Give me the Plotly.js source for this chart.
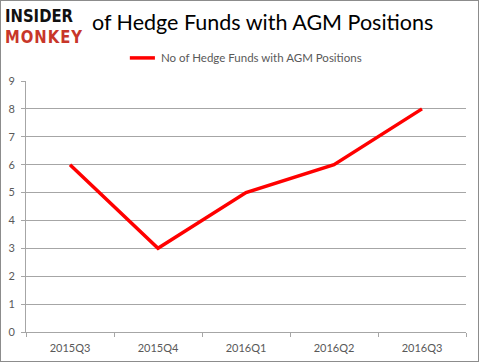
<!DOCTYPE html>
<html><head><meta charset="utf-8">
<script src="https://cdn.plot.ly/plotly-3.0.1.min.js"></script>
<style>
html,body{margin:0;padding:0;background:#fff;}
#wrap{position:relative;width:477px;height:360px;border:1px solid #8c8c8c;}
#chart{width:477px;height:360px;}
#logo{position:absolute;left:4px;top:5.4px;font-family:"DejaVu Sans",sans-serif;font-weight:bold;font-size:17.5px;line-height:20.6px;
  white-space:nowrap;transform-origin:0 0;color:#111;}
#l2{color:#c8362a;}
</style></head><body>
<div id="wrap"><div id="chart"></div>
<div id="logo"><span id="l1">INSIDER</span><br><span id="l2">MONKEY</span></div>
</div>
<script>
const categories = ["2015Q3","2015Q4","2016Q1","2016Q2","2016Q3"];
const hedgeFunds = [6, 3, 5, 6, 8];
const seriesName = "No of Hedge Funds with AGM Positions";
const chartTitle = "of Hedge Funds with AGM Positions";
const yTicks = [0,1,2,3,4,5,6,7,8,9];

const trace = {
  x: categories, y: hedgeFunds, type: 'scatter', mode: 'lines',
  name: seriesName, line: {color: '#ff0000', width: 3.5}, showlegend: false
};
const layout = {
  width: 477, height: 360,
  margin: {l: 25, r: 12, t: 80, b: 29},
  paper_bgcolor: '#fff', plot_bgcolor: '#fff',
  font: {family: 'Lato, "Liberation Sans", sans-serif', color: '#595959', size: 11},
  xaxis: {type: 'category', range: [-0.5, 4.5], tickson: 'boundaries', ticks: 'outside', ticklen: 4,
    tickcolor: '#a6a6a6', showline: true, linecolor: '#a6a6a6', linewidth: 1, showgrid: false,
    tickfont: {size: 11, color: '#595959'}, ticklabelstandoff: 6, fixedrange: true},
  yaxis: {range: [0, 9], tickvals: yTicks, ticks: 'outside', ticklen: 4, tickcolor: '#a6a6a6',
    showline: true, linecolor: '#a6a6a6', linewidth: 1, showgrid: true, gridcolor: '#a6a6a6', gridwidth: 1,
    zeroline: false, tickfont: {size: 11, color: '#595959'}, ticklabelstandoff: 4},
  annotations: [
    {text: chartTitle, xref: 'paper', yref: 'paper', x: 0.145, y: 1.237, xanchor: 'left', yanchor: 'middle',
     showarrow: false, font: {family: 'Lato, sans-serif', size: 21.5, color: '#000'}},
    {text: seriesName, xref: 'paper', yref: 'paper', x: 0.302, y: 1.092, xanchor: 'left', yanchor: 'middle',
     showarrow: false, font: {family: 'Lato, sans-serif', size: 11.5, color: '#595959'}}
  ],
  shapes: [
    {type: 'line', xref: 'paper', yref: 'paper', x0: 0.236, x1: 0.293, y0: 1.092, y1: 1.092,
     line: {color: '#ff0000', width: 3.5}}
  ]
};
Plotly.newPlot('chart', [trace], layout, {displayModeBar: false, staticPlot: true});
(function(){
  const l1 = document.getElementById('l1'), l2 = document.getElementById('l2');
  const w1 = l1.getBoundingClientRect().width, w2 = l2.getBoundingClientRect().width;
  const s = 68 / w1;
  l2.style.letterSpacing = ((78 / s - w2) / 6) + 'px';
  document.getElementById('logo').style.transform = 'scaleX(' + s + ')';
})();
</script>
</body></html>
